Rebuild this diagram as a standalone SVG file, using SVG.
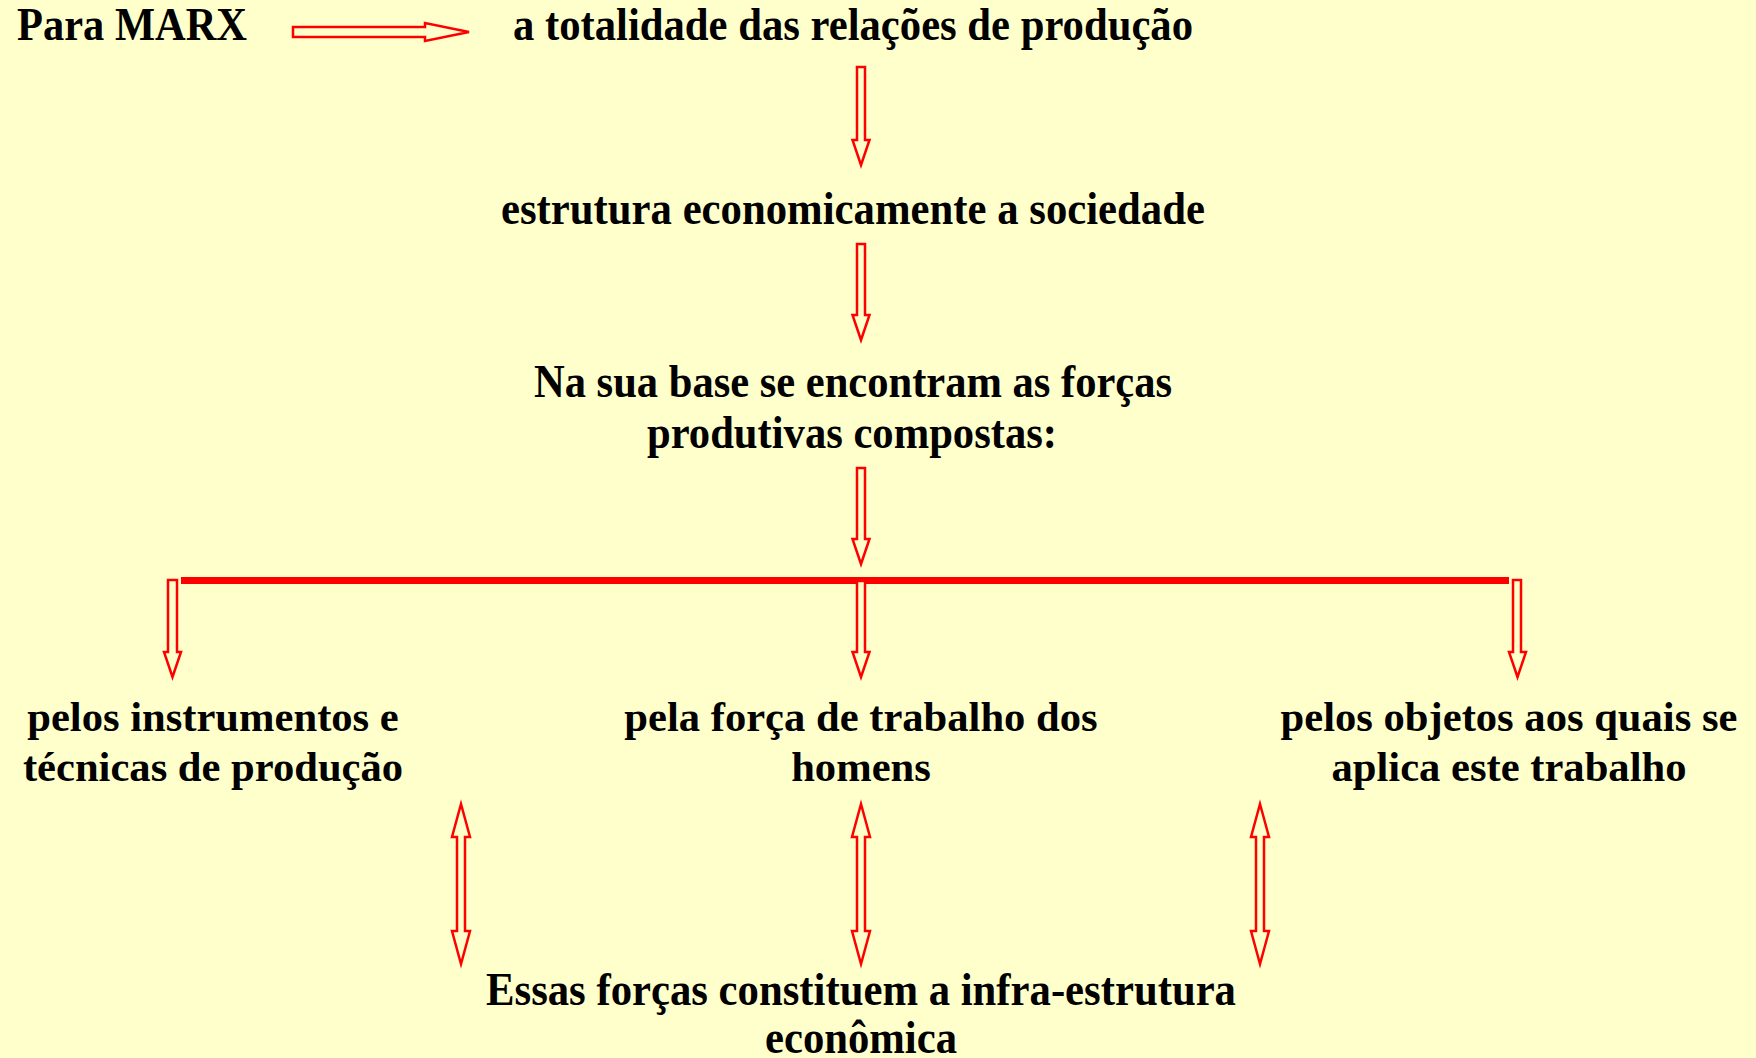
<svg xmlns="http://www.w3.org/2000/svg" width="1756" height="1058" viewBox="0 0 1756 1058">
<style>
.bg{fill:#FFFFCC}
.t{font-family:"Liberation Serif","Times New Roman",serif;font-weight:bold;fill:#000;text-anchor:middle}
.c{font-size:47px}
.n{font-size:42.6px}
.ar{fill:#FFFFCC;stroke:#FF0000;stroke-width:2.5;stroke-linejoin:miter}
.bar{stroke:#FF0000;stroke-width:7}
</style>
<rect class="bg" x="0" y="0" width="1756" height="1058"/>
<g id="connectors">
<path class="ar" d="M293,27 L425,27 L425,23 L469,32 L425,41 L425,37 L293,37 Z"/>
<path class="ar" d="M857,67 L865,67 L865,140 L869.5,140 L861,165 L852.5,140 L857,140 Z"/>
<path class="ar" d="M857,244 L865,244 L865,315 L869.5,315 L861,340 L852.5,315 L857,315 Z"/>
<path class="ar" d="M857,468 L865,468 L865,539 L869.5,539 L861,564 L852.5,539 L857,539 Z"/>
<line class="bar" x1="181" y1="580.5" x2="1509" y2="580.5"/>
<path class="ar" d="M168,580 L177,580 L177,652 L181,652 L172.5,677 L164,652 L168,652 Z"/>
<path class="ar" d="M857,581 L865,581 L865,652 L869.5,652 L861,677 L852.5,652 L857,652 Z"/>
<path class="ar" d="M1513,580 L1521,580 L1521,652 L1526,652 L1517.5,677 L1509,652 L1513,652 Z"/>
<path class="ar" d="M461,804 L470,837 L465,837 L465,931 L470,931 L461,964 L452,931 L457,931 L457,837 L452,837 Z"/>
<path class="ar" d="M861,804 L870,837 L865,837 L865,931 L870,931 L861,964 L852,931 L857,931 L857,837 L852,837 Z"/>
<path class="ar" d="M1260,804 L1269,837 L1264,837 L1264,931 L1269,931 L1260,964 L1251,931 L1256,931 L1256,837 L1251,837 Z"/>
</g>
<g id="para-marx"><text class="t c" x="132" y="40" textLength="230" lengthAdjust="spacingAndGlyphs">Para MARX</text></g>
<g id="totalidade"><text class="t c" x="853" y="40" textLength="680" lengthAdjust="spacingAndGlyphs">a totalidade das relações de produção</text></g>
<g id="estrutura"><text class="t c" x="853" y="224" textLength="704" lengthAdjust="spacingAndGlyphs">estrutura economicamente a sociedade</text></g>
<g id="base">
<text class="t c" x="853" y="397" textLength="638" lengthAdjust="spacingAndGlyphs">Na sua base se encontram as forças</text>
<text class="t c" x="852" y="448" textLength="410" lengthAdjust="spacingAndGlyphs">produtivas compostas:</text>
</g>
<g id="instrumentos">
<text class="t n" x="213" y="731">pelos instrumentos e</text>
<text class="t n" x="213" y="781">técnicas de produção</text>
</g>
<g id="forca-trabalho">
<text class="t n" x="861" y="731">pela força de trabalho dos</text>
<text class="t n" x="861" y="781">homens</text>
</g>
<g id="objetos">
<text class="t n" x="1509" y="731">pelos objetos aos quais se</text>
<text class="t n" x="1509" y="781">aplica este trabalho</text>
</g>
<g id="infra">
<text class="t c" x="861" y="1005" textLength="750" lengthAdjust="spacingAndGlyphs">Essas forças constituem a infra-estrutura</text>
<text class="t c" x="861" y="1053" textLength="192" lengthAdjust="spacingAndGlyphs">econômica</text>
</g>
</svg>
